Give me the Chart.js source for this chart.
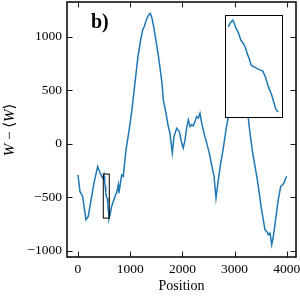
<!DOCTYPE html>
<html><head><meta charset="utf-8">
<script src="https://cdn.jsdelivr.net/npm/chart.js@4"></script>
<style>
html,body{margin:0;padding:0;background:#fff;}
#wrap{position:relative;width:300px;height:300px;}
#main{position:absolute;left:0;top:0;}
#insetBox{position:absolute;left:225px;top:15px;width:58px;height:103px;border:1.6px solid #000;background:#fff;box-sizing:border-box;}
#inset{display:block;}
</style></head><body>
<div id="wrap"><canvas id="main" width="300" height="300"></canvas>
<div id="insetBox"><canvas id="inset" width="55" height="100"></canvas></div></div>
<script>
const positions = [0,38,90,153,197,306,377,421,453,490,499,511,521,533,544,562,573,584,594,620,645,709,741,772,785,837,868,900,920,971,1034,1098,1149,1195,1239,1270,1309,1354,1385,1418,1450,1481,1533,1577,1609,1635,1686,1730,1762,1807,1839,1891,1941,1986,2017,2050,2082,2113,2146,2178,2209,2241,2274,2305,2337,2370,2414,2466,2515,2561,2605,2644,2688,2734,2784,2835,2879,2950,3050,3150,3262,3295,3347,3391,3435,3473,3506,3538,3582,3615,3646,3678,3711,3742,3793,3837,3883,3921,3946,3966,3998];
const values = [-290,-446,-492,-710,-680,-368,-212,-268,-305,-328,-300,-352,-395,-456,-493,-510,-571,-632,-700,-650,-586,-492,-455,-383,-461,-290,-305,-150,-56,100,318,598,816,956,1066,1097,1159,1206,1221,1175,1097,1003,848,692,567,411,287,162,100,-87,68,146,115,7,-40,37,146,224,162,178,168,208,255,240,287,193,100,7,-87,-200,-300,-508,-336,-180,-40,131,255,550,800,600,240,100,-87,-212,-336,-461,-586,-680,-804,-820,-850,-835,-944,-866,-680,-523,-399,-383,-367,-336,-305];
const insetPositions = [490,494,499,502,506,511,516,521,526,529,533,538,544,551,558,562,568,573,580,584,589,594];
const insetValues = [-328,-311,-300,-311,-334,-352,-382,-395,-415,-436,-456,-487,-493,-501,-506,-510,-537,-571,-605,-632,-666,-679];
const xTicks = [0,1000,2000,3000,4000];
const yTicks = [-1000,-500,0,500,1000];
const zoomX = [485, 600];
const zoomY = [-695, -283];
const panelLabel = 'b)';
const xTitle = 'Position';

const SERIF = '"Liberation Serif", "DejaVu Serif", serif';
const fmt = v => (v < 0 ? '\u2212' + Math.abs(v) : String(v));

const framePlugin = {
  id: 'frame',
  afterDraw(chart) {
    const ctx = chart.ctx, a = chart.chartArea, sx = chart.scales.x, sy = chart.scales.y;
    ctx.save();
    ctx.strokeStyle = '#000';
    ctx.lineWidth = 1.5;
    ctx.strokeRect(a.left, a.top, a.right - a.left, a.bottom - a.top);
    const tl = 5.5;
    ctx.lineWidth = 0.9;
    ctx.beginPath();
    xTicks.forEach(v => {
      const p = Math.round(sx.getPixelForValue(v)) + 0.5;
      ctx.moveTo(p, a.bottom); ctx.lineTo(p, a.bottom - tl);
      ctx.moveTo(p, a.top); ctx.lineTo(p, a.top + tl);
    });
    yTicks.forEach(v => {
      const p = Math.round(sy.getPixelForValue(v)) + 0.5;
      ctx.moveTo(a.left, p); ctx.lineTo(a.left + tl, p);
      ctx.moveTo(a.right, p); ctx.lineTo(a.right - tl, p);
    });
    ctx.stroke();
    const x0 = sx.getPixelForValue(zoomX[0]), x1 = sx.getPixelForValue(zoomX[1]);
    const y0 = sy.getPixelForValue(zoomY[1]), y1 = sy.getPixelForValue(zoomY[0]);
    ctx.lineWidth = 1;
    ctx.strokeRect(x0, y0, x1 - x0, y1 - y0);
    ctx.fillStyle = '#000';
    ctx.font = 'bold 20px ' + SERIF;
    ctx.textBaseline = 'alphabetic';
    ctx.textAlign = 'left';
    ctx.fillText(panelLabel, 91, 28);
    ctx.font = '14px ' + SERIF;
    ctx.textAlign = 'center';
    ctx.textBaseline = 'middle';
    ctx.fillText(xTitle, (a.left + a.right) / 2, 286);
    const fs = '15px ';
    const parts = [['W', 'italic ' + fs + SERIF], [' \u2212 ', fs + SERIF], ['\u27E8', fs + SERIF], ['W', 'italic ' + fs + SERIF], ['\u27E9', fs + SERIF]];
    let total = 0;
    parts.forEach(p => { ctx.font = p[1]; total += ctx.measureText(p[0]).width; });
    ctx.translate(10, 130);
    ctx.rotate(-Math.PI / 2);
    ctx.textAlign = 'left';
    let x = -total / 2;
    parts.forEach(p => { ctx.font = p[1]; ctx.fillText(p[0], x, 0); x += ctx.measureText(p[0]).width; });
    ctx.restore();
  }
};

const tickFont = { family: SERIF, size: 13.5 };

new Chart(document.getElementById('main'), {
  type: 'line',
  data: { datasets: [{ data: positions.map((p, i) => ({ x: p, y: values[i] })), borderColor: '#1f77b4', borderWidth: 1.5, pointRadius: 0, tension: 0, fill: false }] },
  options: {
    responsive: false, animation: false, events: [],
    layout: { padding: { top: 2, right: 4, left: 0, bottom: 0 } },
    plugins: { legend: { display: false }, tooltip: { enabled: false } },
    scales: {
      x: {
        type: 'linear', min: -210, max: 4176,
        grid: { display: false, drawTicks: false }, border: { display: false },
        ticks: { font: tickFont, color: '#000', padding: 4, maxRotation: 0, autoSkip: false, callback: fmt },
        afterBuildTicks: s => { s.ticks = xTicks.map(v => ({ value: v })); },
        afterFit: s => { s.height = 43; s.paddingLeft = 0; s.paddingRight = 0; }
      },
      y: {
        type: 'linear', min: -1059, max: 1327,
        grid: { display: false, drawTicks: false }, border: { display: false },
        ticks: { font: tickFont, color: '#000', padding: 5, autoSkip: false, callback: fmt },
        afterBuildTicks: s => { s.ticks = yTicks.map(v => ({ value: v })); },
        afterFit: s => { s.width = 67; s.paddingTop = 0; s.paddingBottom = 0; }
      }
    }
  },
  plugins: [framePlugin]
});

new Chart(document.getElementById('inset'), {
  type: 'line',
  data: { datasets: [{ data: insetPositions.map((p, i) => ({ x: p, y: insetValues[i] })), borderColor: '#1f77b4', borderWidth: 1.5, pointRadius: 0, tension: 0, fill: false }] },
  options: {
    responsive: false, animation: false, events: [],
    layout: { padding: 0 },
    plugins: { legend: { display: false }, tooltip: { enabled: false } },
    scales: {
      x: { type: 'linear', display: false, min: zoomX[0], max: zoomX[1] },
      y: { type: 'linear', display: false, min: zoomY[0], max: zoomY[1] }
    }
  }
});
</script>
</body></html>
